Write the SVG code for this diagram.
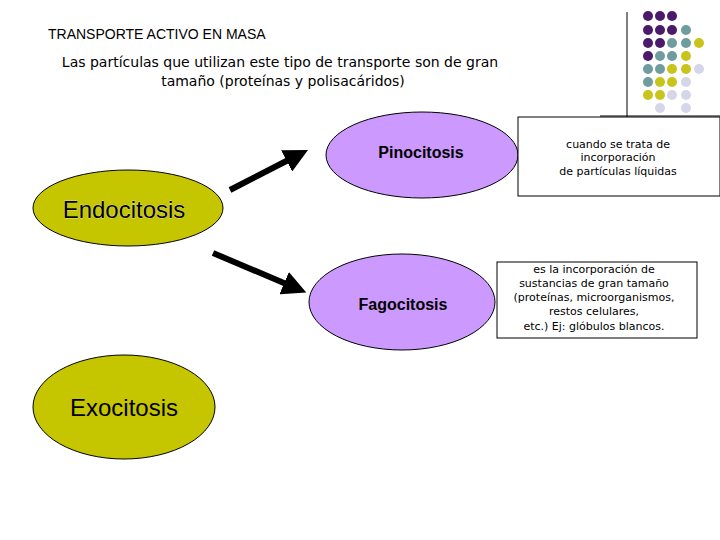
<svg xmlns="http://www.w3.org/2000/svg" width="720" height="540" viewBox="0 0 720 540">
<style>
.p{fill:#4b1a6b}.t{fill:#6f9c9e}.y{fill:#c8c41a}.l{fill:#d6d6ea}
.big{fill:#c6c600;stroke:#000;stroke-width:1}
.vio{fill:#cc99ff;stroke:#000;stroke-width:1}
.bx{fill:#fff;stroke:#000;stroke-width:1}
.sm{font-family:"DejaVu Sans",sans-serif;font-size:11px;text-anchor:middle;fill:#000}
</style>
<defs><marker id="ah" markerWidth="4" markerHeight="4" refX="2.5" refY="2" orient="auto"><path d="M0,0L4,2L0,4z" fill="#000"/></marker></defs>
<rect width="720" height="540" fill="#fff"/>
<g id="deco">
<line x1="627" y1="12" x2="627" y2="130" stroke="#000"/>
<line x1="600" y1="116" x2="720" y2="116" stroke="#000"/>
<g>
<circle class="p" cx="648" cy="16" r="5"/><circle class="p" cx="660" cy="16" r="5"/><circle class="p" cx="672" cy="16" r="5"/>
<circle class="p" cx="648" cy="30" r="5"/><circle class="p" cx="660" cy="30" r="5"/><circle class="p" cx="672" cy="30" r="5"/><circle class="t" cx="686" cy="30" r="5"/>
<circle class="p" cx="648" cy="43" r="5"/><circle class="p" cx="660" cy="43" r="5"/><circle class="t" cx="672" cy="43" r="5"/><circle class="t" cx="686" cy="43" r="5"/><circle class="y" cx="699" cy="43" r="5"/>
<circle class="p" cx="648" cy="56" r="5"/><circle class="t" cx="660" cy="56" r="5"/><circle class="t" cx="672" cy="56" r="5"/><circle class="y" cx="686" cy="56" r="5"/>
<circle class="t" cx="648" cy="69" r="5"/><circle class="t" cx="660" cy="69" r="5"/><circle class="y" cx="672" cy="69" r="5"/><circle class="y" cx="686" cy="69" r="5"/><circle class="l" cx="699" cy="69" r="5"/>
<circle class="t" cx="648" cy="82" r="5"/><circle class="y" cx="660" cy="82" r="5"/><circle class="y" cx="672" cy="82" r="5"/><circle class="l" cx="686" cy="82" r="5"/>
<circle class="y" cx="648" cy="95" r="5"/><circle class="y" cx="660" cy="95" r="5"/><circle class="l" cx="672" cy="95" r="5"/><circle class="l" cx="686" cy="95" r="5"/>
<circle class="l" cx="660" cy="108" r="5"/><circle class="l" cx="686" cy="108" r="5"/>
</g>
</g>
<g id="title" font-family="Liberation Sans,sans-serif">
<text x="48" y="39" font-size="14">TRANSPORTE ACTIVO EN MASA</text>
<text x="280" y="67" font-family="DejaVu Sans,sans-serif" font-size="14" text-anchor="middle">Las partículas que utilizan este tipo de transporte son de gran</text>
<text x="283" y="86" font-family="DejaVu Sans,sans-serif" font-size="14" text-anchor="middle">tamaño (proteínas y polisacáridos)</text>
</g>
<g id="connectors" stroke="#000" stroke-width="6" marker-end="url(#ah)">
<line x1="230" y1="190" x2="300" y2="154"/>
<line x1="213" y1="253" x2="298" y2="289"/>
</g>
<g id="endocitosis"><ellipse class="big" cx="128" cy="208" rx="95" ry="38"/><text x="124" y="218" font-family="Liberation Sans,sans-serif" font-size="24" text-anchor="middle" fill="#000" stroke="#fff" stroke-width="0.4" style="paint-order:stroke">Endocitosis</text></g>
<g id="exocitosis"><ellipse class="big" cx="124" cy="407" rx="91" ry="52"/><text x="124" y="416" font-family="Liberation Sans,sans-serif" font-size="24" text-anchor="middle" fill="#000">Exocitosis</text></g>
<g id="pinocitosis"><ellipse class="vio" cx="422" cy="155" rx="96" ry="43"/><text x="421" y="158" font-family="Liberation Sans,sans-serif" font-size="16" font-weight="bold" text-anchor="middle">Pinocitosis</text></g>
<g id="fagocitosis"><ellipse class="vio" cx="402" cy="302" rx="93" ry="48"/><text x="403" y="310" font-family="Liberation Sans,sans-serif" font-size="16" font-weight="bold" text-anchor="middle">Fagocitosis</text></g>
<g id="box1"><rect class="bx" x="518" y="117" width="202" height="79"/>
<text class="sm" x="618" y="148">cuando se trata de</text><text class="sm" x="618" y="161">incorporación</text><text class="sm" x="618" y="175">de partículas líquidas</text></g>
<g id="box2"><rect class="bx" x="497" y="262" width="200" height="76"/>
<text class="sm" x="594" y="273">es la incorporación de</text><text class="sm" x="594" y="287">sustancias de gran tamaño</text><text class="sm" x="594" y="301">(proteínas, microorganismos,</text><text class="sm" x="594" y="315">restos celulares,</text><text class="sm" x="594" y="330">etc.) Ej: glóbulos blancos.</text></g>
</svg>
